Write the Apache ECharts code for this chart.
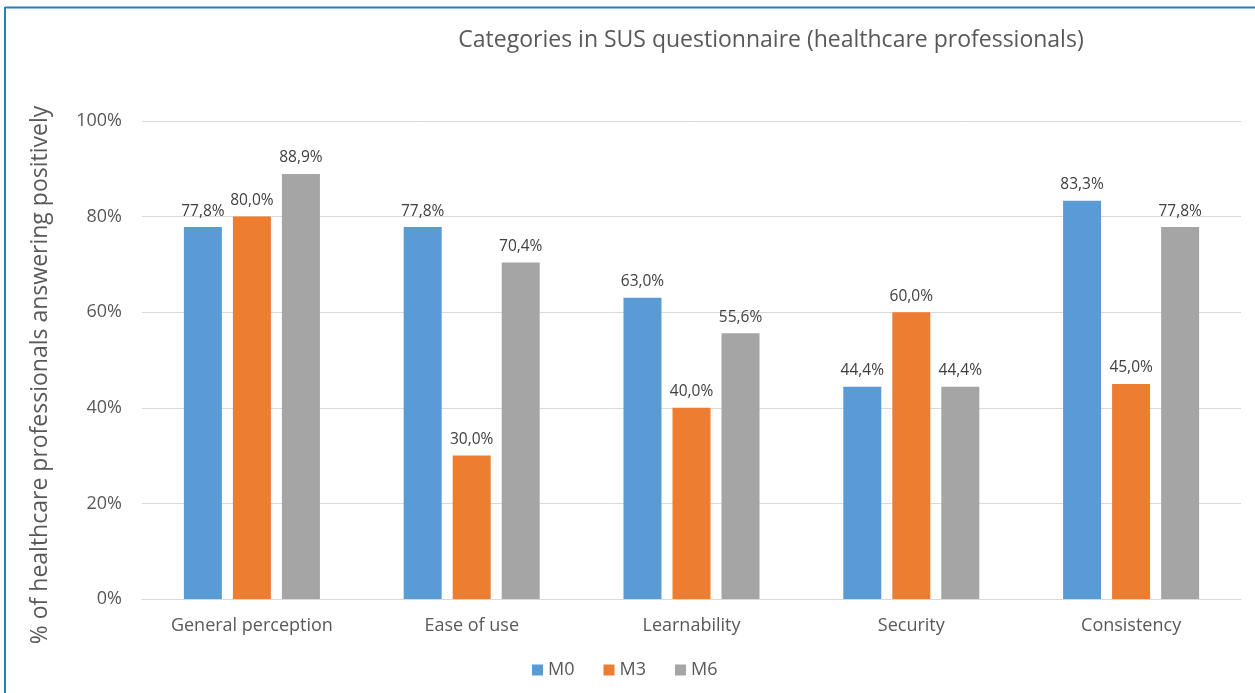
<!DOCTYPE html>
<html>
<head>
<meta charset="utf-8">
<script src="https://cdn.jsdelivr.net/npm/echarts@6/dist/echarts.min.js"></script>
<style>
  html, body { margin: 0; padding: 0; background: #fff; }
  #chart { width: 1255px; height: 693px; }
</style>
</head>
<body>
<div id="chart"></div>
<script>
// SUS questionnaire categories, share of healthcare professionals answering positively (%)
const categories = ['General perception', 'Ease of use', 'Learnability', 'Security', 'Consistency'];
const seriesNames = ['M0', 'M3', 'M6'];
const m0 = [77.8, 77.8, 63.0, 44.4, 83.3];
const m3 = [80.0, 30.0, 40.0, 60.0, 45.0];
const m6 = [88.9, 70.4, 55.6, 44.4, 77.8];
const yTicks = [0, 20, 40, 60, 80, 100];

const colors = ['#5b9bd5', '#ed7d31', '#a5a5a5'];
const fontFamily = 'Open Sans, Lato, sans-serif';

const chart = echarts.init(document.getElementById('chart'), null, { renderer: 'canvas' });

function makeSeries(name, data, color) {
  return {
    name: name,
    type: 'bar',
    data: data,
    barWidth: 38,
    barGap: '29%',
    itemStyle: { color: color },
    label: {
      show: true,
      position: 'top',
      distance: 8,
      color: '#404040',
      fontSize: 15.5,
      fontFamily: fontFamily,
      formatter: p => p.value.toFixed(1).replace('.', ',') + '%'
    }
  };
}

chart.setOption({
  animation: false,
  color: colors,
  title: {
    text: 'Categories in SUS questionnaire (healthcare professionals)',
    left: 766,
    textAlign: 'center',
    top: 24,
    textStyle: { color: '#595959', fontSize: 23, fontWeight: 'normal', fontFamily: fontFamily }
  },
  legend: {
    data: seriesNames,
    top: 656,
    left: 527,
    itemWidth: 11,
    itemHeight: 11,
    itemGap: 29,
    icon: 'rect',
    textStyle: { color: '#595959', fontSize: 18, fontFamily: fontFamily }
  },
  grid: { left: 142, right: 14, top: 121, bottom: 94 },
  xAxis: {
    type: 'category',
    data: categories,
    axisLine: { lineStyle: { color: '#d9d9d9' } },
    axisTick: { show: false },
    axisLabel: { color: '#595959', fontSize: 18, margin: 18, fontFamily: fontFamily }
  },
  yAxis: {
    type: 'value',
    min: yTicks[0],
    max: yTicks[yTicks.length - 1],
    interval: 20,
    name: '% of healthcare professionals answering positively',
    nameLocation: 'middle',
    nameGap: 90,
    nameTextStyle: { color: '#595959', fontSize: 23, fontFamily: fontFamily, padding: [0, 30, 0, 0] },
    axisLine: { show: false },
    axisTick: { show: false },
    splitLine: { lineStyle: { color: '#d9d9d9' } },
    axisLabel: { color: '#595959', fontSize: 18, margin: 20, fontFamily: fontFamily, formatter: v => v + '%' }
  },
  graphic: [
    { type: 'line', shape: { x1: 5, y1: 7.5, x2: 1255, y2: 7.5 }, style: { stroke: '#1a86c0', lineWidth: 2 } },
    { type: 'line', shape: { x1: 5, y1: 7, x2: 5, y2: 693 }, style: { stroke: '#1a86c0', lineWidth: 2 } }
  ],
  series: [
    makeSeries(seriesNames[0], m0, colors[0]),
    makeSeries(seriesNames[1], m3, colors[1]),
    makeSeries(seriesNames[2], m6, colors[2])
  ]
});
</script>
</body>
</html>
